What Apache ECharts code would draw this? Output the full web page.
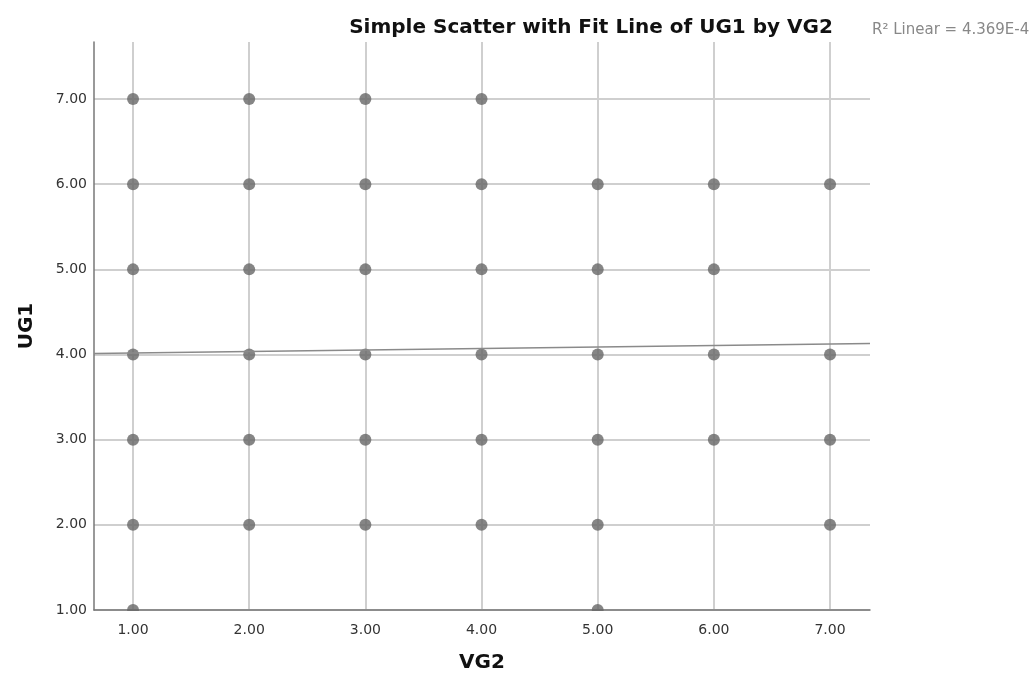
<!DOCTYPE html>
<html>
<head>
<meta charset="utf-8">
<script src="https://cdn.jsdelivr.net/npm/echarts@6/dist/echarts.min.js"></script>
<style>html,body{margin:0;padding:0;background:#fff}#c{width:1035px;height:678px}</style>
</head>
<body>
<div id="c"></div>
<script>
// Observed (VG2, UG1) pairs, grouped by UG1 value
const ug1Levels = [7, 6, 5, 4, 3, 2, 1];
const vg2AtUG1_7 = [1, 2, 3, 4];
const vg2AtUG1_6 = [1, 2, 3, 4, 5, 6, 7];
const vg2AtUG1_5 = [1, 2, 3, 4, 5, 6];
const vg2AtUG1_4 = [1, 2, 3, 4, 5, 6, 7];
const vg2AtUG1_3 = [1, 2, 3, 4, 5, 6, 7];
const vg2AtUG1_2 = [1, 2, 3, 4, 5, 7];
const vg2AtUG1_1 = [1, 5];
// Linear fit line endpoints (across the x range)
const fitX = [0.664, 7.344];
const fitY = [4.012, 4.13];
const xTicks = [1, 2, 3, 4, 5, 6, 7];
const yTicks = [1, 2, 3, 4, 5, 6, 7];
const xRange = [0.664, 7.344];
const yRange = [1, 7.67];
const titleText = 'Simple Scatter with Fit Line of UG1 by VG2';
const r2Text = 'R\u00B2 Linear = 4.369E-4';

const groups = [vg2AtUG1_7, vg2AtUG1_6, vg2AtUG1_5, vg2AtUG1_4, vg2AtUG1_3, vg2AtUG1_2, vg2AtUG1_1];
const points = [];
groups.forEach((xs, i) => xs.forEach(x => points.push([x, ug1Levels[i]])));

const font = '"DejaVu Sans", sans-serif';
const chart = echarts.init(document.getElementById('c'), null, {renderer: 'canvas'});
chart.setOption({
  animation: false,
  backgroundColor: '#fff',
  title: [{
    text: titleText, left: 586, top: 13, textAlign: 'center',
    textStyle: {fontFamily: font, fontWeight: 'bold', fontSize: 20, color: '#111'}
  }, {
    text: r2Text, left: 867, top: 18,
    textStyle: {fontFamily: font, fontWeight: 'normal', fontSize: 15, color: '#888'}
  }],
  grid: {left: 94, right: 165, top: 42, bottom: 68, containLabel: false},
  xAxis: {
    type: 'value', min: xRange[0], max: xRange[1],
    name: 'VG2', nameLocation: 'middle', nameGap: 43,
    nameTextStyle: {fontFamily: font, fontWeight: 'bold', fontSize: 20, color: '#111'},
    axisLine: {show: true, onZero: false, lineStyle: {color: '#777', width: 1.5}},
    axisTick: {show: false, customValues: xTicks},
    axisLabel: {customValues: xTicks, formatter: v => v.toFixed(2), fontFamily: font, fontSize: 14, color: '#333', margin: 13},
    splitLine: {show: true, lineStyle: {color: '#cfcfcf', width: 2}}
  },
  yAxis: {
    type: 'value', min: yRange[0], max: yRange[1],
    name: 'UG1', nameLocation: 'middle', nameGap: 57, nameRotate: 90,
    nameTextStyle: {fontFamily: font, fontWeight: 'bold', fontSize: 20, color: '#111'},
    axisLine: {show: true, onZero: false, lineStyle: {color: '#777', width: 1.5}},
    axisTick: {show: false, customValues: yTicks},
    axisLabel: {customValues: yTicks, formatter: v => v.toFixed(2), fontFamily: font, fontSize: 14, color: '#333', margin: 7},
    splitLine: {show: true, lineStyle: {color: '#cfcfcf', width: 2}}
  },
  series: [{
    type: 'scatter', data: points, symbol: 'circle', symbolSize: 12,
    itemStyle: {color: '#676767'}, z: 3
  }, {
    type: 'line', data: fitX.map((x, i) => [x, fitY[i]]), symbol: 'none',
    lineStyle: {color: '#8a8a8a', width: 1.5}, z: 4
  }],
  graphic: [{
    type: 'rect', shape: {x: 95, y: 611, width: 780, height: 9},
    style: {fill: '#fff'}, z: 100
  }]
});
</script>
</body>
</html>
